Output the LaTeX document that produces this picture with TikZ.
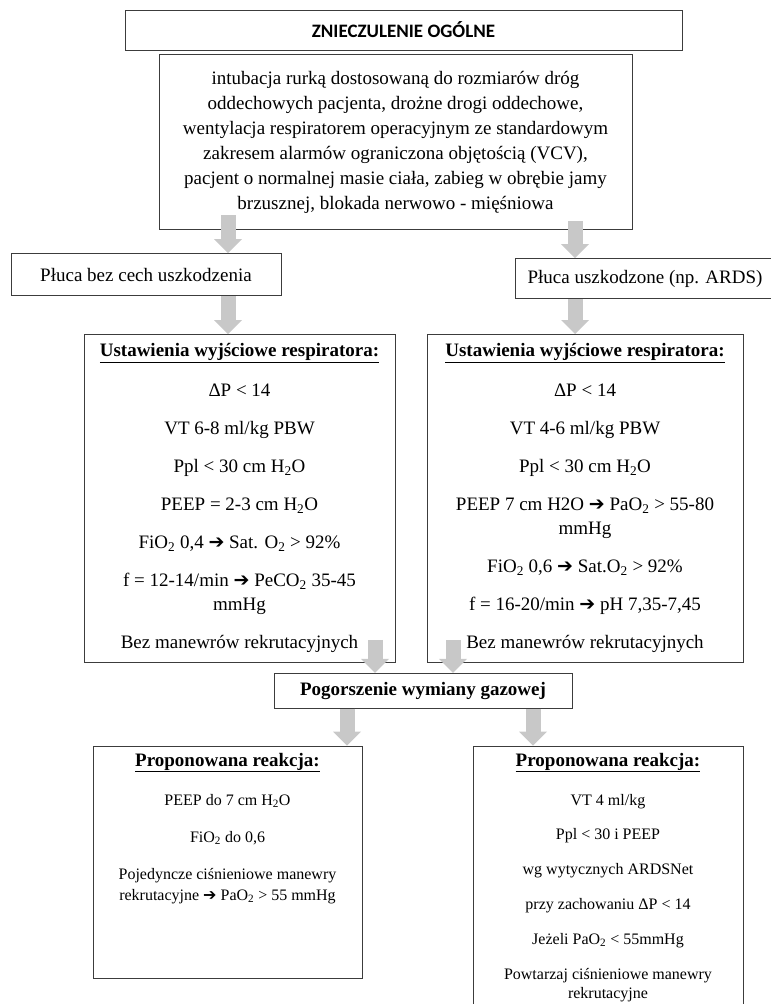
\documentclass[tikz,border=0pt]{standalone}
\usepackage{fontspec}
\setmainfont{Liberation Serif}
\newfontfamily\tytulfont{Carlito}
\newfontfamily\strzfont{DejaVu Sans}
\usepackage{xcolor}
\definecolor{ramkagr}{RGB}{60,60,60}
\definecolor{strzgr}{RGB}{200,200,200}
\usepackage{tikz}
\usetikzlibrary{arrows.meta,positioning}
\newcommand{\rarr}{{\strzfont\bfseries ➔}}
\newcommand{\dwa}{\textsubscript{2}}
\newcommand{\naglowek}[1]{\underline{\textbf{#1}}}
\tikzset{
  ramka/.style={draw=ramkagr, line width=0.8pt, fill=white, align=center, inner sep=4pt, font=\fontsize{19}{22}\selectfont},
  tytulbox/.style={ramka, minimum width=557pt, minimum height=40pt, font=\tytulfont\bfseries\fontsize{19}{22}\selectfont},
  wstepbox/.style={ramka, minimum width=473pt, minimum height=175pt, font=\fontsize{19}{25}\selectfont},
  plucabox/.style={ramka, minimum height=42pt},
  ustbox/.style={ramka, minimum height=328pt},
  pogobox/.style={ramka, minimum width=298pt, minimum height=35pt, font=\bfseries\fontsize{19}{22}\selectfont},
  reakbox/.style={ramka, inner ysep=7pt, font=\fontsize{16}{19}\selectfont},
  strz/.style={draw=strzgr, line width=15pt, -{Triangle[length=14pt, width=28pt, line width=0pt]}}
}

\begin{document}
\begin{tikzpicture}
  \useasboundingbox (0,0) rectangle (771pt,-1004pt);
  \node[tytulbox] (tytul) at (403.5pt,-30pt) {ZNIECZULENIE OGÓLNE};
  \node[wstepbox, below=4pt of tytul, xshift=-8pt] (wstep) {intubacja rurką dostosowaną do rozmiarów dróg\\
    oddechowych pacjenta, drożne drogi oddechowe,\\
    wentylacja respiratorem operacyjnym ze standardowym\\
    zakresem alarmów ograniczona objętością (VCV),\\
    pacjent o normalnej masie ciała, zabieg w obrębie jamy\\
    brzusznej, blokada nerwowo - mięśniowa};
  \node[plucabox, minimum width=270pt, below=23pt of wstep, xshift=-249.5pt] (plL) {Płuca bez cech uszkodzenia};
  \node[plucabox, minimum width=260pt, minimum height=40pt, below=28pt of wstep, xshift=249.5pt] (plP) {Płuca uszkodzone (np. ARDS)};
  \node[ustbox, minimum width=311pt, below=38pt of plL, xshift=93.5pt] (ustL) {\naglowek{Ustawienia wyjściowe respiratora:}\\[18pt]
    ΔP < 14\\[16pt]
    VT 6-8 ml/kg PBW\\[16pt]
    Ppl < 30 cm H\dwa O\\[16pt]
    PEEP = 2-3 cm H\dwa O\\[16pt]
    FiO\dwa{} 0,4 \rarr{} Sat. O\dwa{} > 92\%\\[16pt]
    f = 12-14/min \rarr{} PeCO\dwa{} 35-45\\[2pt]
    mmHg\\[16pt]
    Bez manewrów rekrutacyjnych};
  \node[ustbox, minimum width=316pt, below=35pt of plP, xshift=-60pt] (ustP) {\naglowek{Ustawienia wyjściowe respiratora:}\\[18pt]
    ΔP < 14\\[16pt]
    VT 4-6 ml/kg PBW\\[16pt]
    Ppl < 30 cm H\dwa O\\[16pt]
    PEEP 7 cm H2O \rarr{} PaO\dwa{} > 55-80\\[2pt]
    mmHg\\[16pt]
    FiO\dwa{} 0,6 \rarr{} Sat.O\dwa{} > 92\%\\[16pt]
    f = 16-20/min \rarr{} pH 7,35-7,45\\[16pt]
    Bez manewrów rekrutacyjnych};
  \node[pogobox, below=10pt of ustL, xshift=183.5pt] (pogo) {Pogorszenie wymiany gazowej};
  \node[reakbox, minimum width=269pt, below=37pt of pogo, xshift=-195.5pt] (reakL) {{\fontsize{19}{19}\selectfont\naglowek{Proponowana reakcja:}}\\[20pt]
    PEEP do 7 cm H\dwa O\\[18pt]
    FiO\dwa{} do 0,6\\[18pt]
    Pojedyncze ciśnieniowe manewry\\[2pt]
    rekrutacyjne \rarr{} PaO\dwa{} > 55 mmHg\\[52pt]\mbox{}};
  \node[reakbox, minimum width=270pt, below=37pt of pogo, xshift=185pt] (reakP) {{\fontsize{19}{19}\selectfont\naglowek{Proponowana reakcja:}}\\[20pt]
    VT 4 ml/kg\\[15.8pt]
    Ppl < 30 i PEEP\\[15.8pt]
    wg wytycznych ARDSNet\\[15.8pt]
    przy zachowaniu ΔP < 14\\[15.8pt]
    Jeżeli PaO\dwa{} < 55mmHg\\[15.8pt]
    Powtarzaj ciśnieniowe manewry\\
    rekrutacyjne\\[40pt]\mbox{}};
  % szare strzalki
  \draw[strz] ([xshift=-167.5pt,yshift=15pt]wstep.south) -- ([xshift=82pt]plL.north);
  \draw[strz] ([xshift=179.5pt,yshift=9pt]wstep.south) -- ([xshift=-70pt]plP.north);
  \draw[strz] ([xshift=82pt]plL.south) -- ([xshift=-11.5pt]ustL.north);
  \draw[strz] ([xshift=-70pt]plP.south) -- ([xshift=-10pt]ustP.north);
  \draw[strz] ([xshift=135.5pt,yshift=23pt]ustL.south) -- ([xshift=-48pt]pogo.north);
  \draw[strz] ([xshift=-132pt,yshift=23pt]ustP.south) -- ([xshift=30pt]pogo.north);
  \draw[strz] ([xshift=-76pt]pogo.south) -- ([xshift=119.5pt]reakL.north);
  \draw[strz] ([xshift=110pt]pogo.south) -- ([xshift=-75pt]reakP.north);
\end{tikzpicture}
\end{document}
